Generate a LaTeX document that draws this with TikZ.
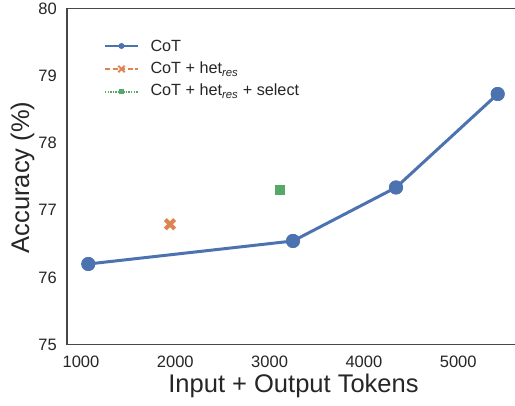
\documentclass[tikz,border=0pt]{standalone}
\usepackage{fontspec}
\setmainfont{Liberation Sans}
\usetikzlibrary{calc}
\definecolor{cblue}{HTML}{4C72B0}
\definecolor{corange}{HTML}{DD8452}
\definecolor{cgreen}{HTML}{55A868}
\definecolor{ink}{HTML}{262626}
\tikzset{
  spine/.style={draw=ink!85, line width=1.2pt},
  ticklbl/.style={font=\fontsize{16.5}{16.5}\selectfont, text=ink, inner sep=0pt},
  axlbl/.style={font=\fontsize{25.5}{25.5}\selectfont, text=ink, inner sep=0pt, anchor=base},
  leglbl/.style={font=\fontsize{16.2}{16.2}\selectfont, text=ink, inner sep=0pt, anchor=base west},
  dot/.style={circle, fill=cblue, minimum size=14pt, inner sep=0pt},
  smalldot/.style={circle, fill=cblue, minimum size=6pt, inner sep=0pt},
  sq/.style={rectangle, fill=cgreen, minimum size=10pt, inner sep=0pt},
  smallsq/.style={rectangle, fill=cgreen, minimum size=5pt, inner sep=0pt},
  cotline/.style={cblue, line width=3pt},
}
\newcommand{\subres}{\textsubscript{\itshape res}}
\begin{document}
\begin{tikzpicture}[x=1pt,y=1pt]
\useasboundingbox (0,0) rectangle (515,406);
\fill[white] (0,0) rectangle (515,406);
% axes
\coordinate (tl) at (67,397.3);
\coordinate (bl) at (67,61.5);
\coordinate (br) at (515,61.5);
\coordinate (tr) at (515,397.3);
\draw[spine] (tr) -- (tl) -- (bl) -- (br);
% y tick labels
\foreach \v/\yy in {80/397.3,79/330.1,78/262.9,77/195.7,76/128.5,75/61.5}
  \node[ticklbl, anchor=east] (y\v) at (57,\yy) {\v};
% x tick labels
\foreach \v/\xx in {1000/81,2000/175.3,3000/269.6,4000/363.9,5000/458.2}
  \node[ticklbl, anchor=north] (x\v) at (\xx,50.5) {\v};
\node[axlbl] (xlabel) at (293.5,13) {Input + Output Tokens};
\node[axlbl, rotate=90] (ylabel) at (29,228.5) {Accuracy (\%)};
% data
\node[dot] (p1) at (88.3,142) {};
\node[dot] (p2) at (293,165) {};
\node[dot] (p3) at (396,218.5) {};
\node[dot] (p4) at (497.7,312) {};
\draw[cotline] (p1.center) -- (p2.center) -- (p3.center) -- (p4.center);
\foreach \p in {p1,p2,p3,p4} \fill[cblue] (\p) circle (7pt);
% orange X
\node[inner sep=0pt, minimum size=12pt] (hx) at (170,181.7) {};
\draw[corange, line width=4pt] ($(hx.north west)+(1.5,-1.5)$) -- ($(hx.south east)+(-1.5,1.5)$);
\draw[corange, line width=4pt] ($(hx.north east)+(-1.5,-1.5)$) -- ($(hx.south west)+(1.5,1.5)$);
% green square
\node[sq] (hs) at (279.7,216) {};
% legend
\coordinate (l1a) at (105,360); \coordinate (l1b) at (138,360);
\coordinate (l2a) at (105,337); \coordinate (l2b) at (138,337);
\coordinate (l3a) at (105,314); \coordinate (l3b) at (138,314);
\draw[cblue, line width=1.6pt] (l1a) -- (l1b);
\node[smalldot] (m1) at (121.5,360) {};
\draw[corange, line width=1.6pt, dash pattern=on 5pt off 2.5pt] (l2a) -- (l2b);
\node[inner sep=0pt, minimum size=6pt] (m2) at (121.5,337) {};
\draw[corange, line width=2pt] (m2.north west) -- (m2.south east) (m2.north east) -- (m2.south west);
\draw[cgreen, line width=1.4pt, dash pattern=on 1.4pt off 1.2pt] (l3a) -- (l3b);
\node[smallsq] (m3) at (121.5,314) {};
\node[leglbl] (t1) at (150.3,354) {CoT};
\node[leglbl] (t2) at (150.3,332.5) {CoT + het\subres};
\node[leglbl] (t3) at (150.3,310) {CoT + het\subres{} + select};
\end{tikzpicture}
\end{document}
